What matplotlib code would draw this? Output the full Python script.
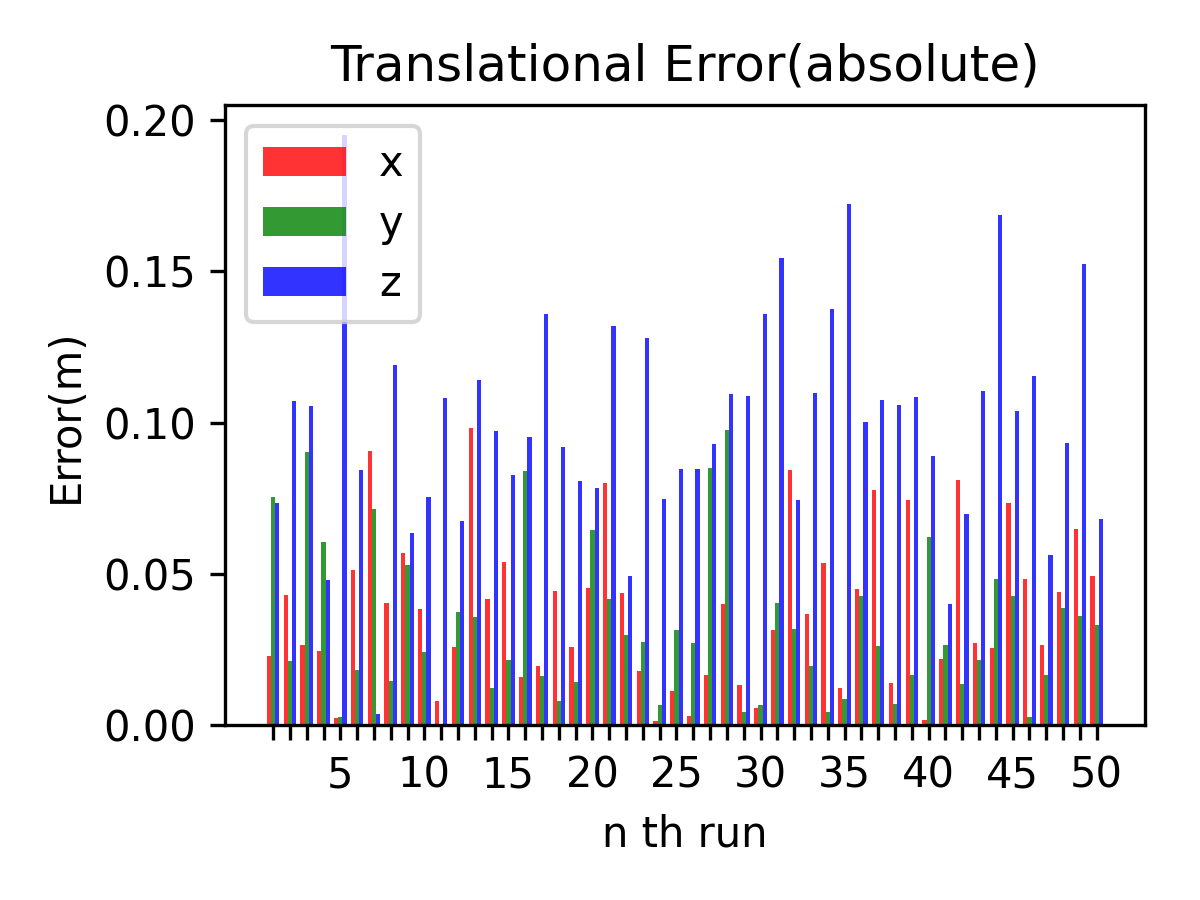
import numpy as np
import matplotlib
matplotlib.use("Agg")
import matplotlib.pyplot as plt

runs = np.arange(1, 51)

err_x = [0.0229, 0.0432, 0.0267, 0.0245, 0.0024, 0.0512, 0.0906, 0.0403, 0.0568, 0.0383,
         0.0080, 0.0258, 0.0981, 0.0419, 0.0541, 0.0159, 0.0195, 0.0445, 0.0258, 0.0453,
         0.0802, 0.0437, 0.0181, 0.0015, 0.0112, 0.0032, 0.0168, 0.0400, 0.0133, 0.0059,
         0.0314, 0.0842, 0.0367, 0.0535, 0.0125, 0.0450, 0.0776, 0.0139, 0.0743, 0.0019,
         0.0218, 0.0810, 0.0271, 0.0254, 0.0733, 0.0485, 0.0264, 0.0440, 0.0650, 0.0493]

err_y = [0.0755, 0.0211, 0.0903, 0.0605, 0.0029, 0.0184, 0.0714, 0.0146, 0.0528, 0.0242,
         0.0000, 0.0373, 0.0357, 0.0122, 0.0215, 0.0839, 0.0162, 0.0080, 0.0142, 0.0645,
         0.0416, 0.0298, 0.0274, 0.0069, 0.0314, 0.0271, 0.0850, 0.0975, 0.0043, 0.0066,
         0.0403, 0.0317, 0.0195, 0.0043, 0.0088, 0.0426, 0.0261, 0.0072, 0.0165, 0.0621,
         0.0267, 0.0136, 0.0215, 0.0485, 0.0426, 0.0027, 0.0168, 0.0389, 0.0360, 0.0333]

err_z = [0.0733, 0.1071, 0.1055, 0.0479, 0.1950, 0.0842, 0.0037, 0.1189, 0.0634, 0.0754,
         0.1080, 0.0674, 0.1140, 0.0972, 0.0826, 0.0951, 0.1358, 0.0919, 0.0807, 0.0783,
         0.1319, 0.0493, 0.1279, 0.0746, 0.0845, 0.0845, 0.0928, 0.1093, 0.1087, 0.1358,
         0.1543, 0.0743, 0.1097, 0.1375, 0.1721, 0.1001, 0.1074, 0.1058, 0.1084, 0.0889,
         0.0400, 0.0698, 0.1103, 0.1684, 0.1037, 0.1153, 0.0562, 0.0932, 0.1524, 0.0680]

tick_labels = [str(r) if r % 5 == 0 else "" for r in runs]

width = 0.25

fig, ax = plt.subplots(figsize=(4, 3), dpi=300)
fig.subplots_adjust(left=0.1875, right=0.954, bottom=0.194, top=0.883)

ax.bar(runs - width, err_x, width, color="r", alpha=0.8, label="x")
ax.bar(runs, err_y, width, color="g", alpha=0.8, label="y")
ax.bar(runs + width, err_z, width, color="b", alpha=0.8, label="z")

ax.set_xticks(runs)
ax.set_xticklabels(tick_labels)
ax.set_title("Translational Error(absolute)")
ax.set_xlabel("n th run")
ax.set_ylabel("Error(m)")
ax.legend(loc="upper left", labelspacing=0.44)

fig.savefig("out.png", dpi=300)
